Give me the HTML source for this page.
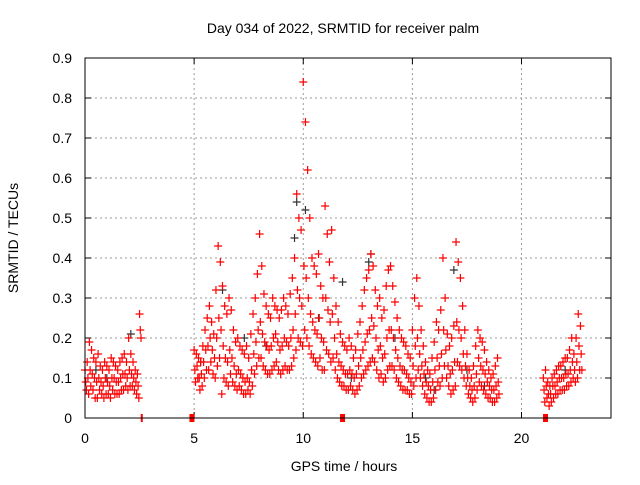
<!DOCTYPE html>
<html><head><meta charset="utf-8"><style>
body{margin:0;background:#fff}
svg text{font-family:"Liberation Sans",sans-serif;font-size:14px;fill:#000}
</style></head><body>
<svg id="chart" width="640" height="480" xmlns="http://www.w3.org/2000/svg">
<rect width="640" height="480" fill="#fff"/>
<text x="343" y="33" text-anchor="middle">Day 034 of 2022, SRMTID for receiver palm</text>
<text transform="translate(18,238) rotate(-90)" text-anchor="middle">SRMTID / TECUs</text>
<text x="344" y="471" text-anchor="middle">GPS time / hours</text>
<g id="grid"></g><g id="ticks"></g><g id="marks"></g>
<rect x="85" y="58" width="526" height="360" fill="none" stroke="#000" stroke-width="1"/>
</svg>
<script>
const xTicks=[0,5,10,15,20];
const yTicks=[0,0.1,0.2,0.3,0.4,0.5,0.6,0.7,0.8,0.9];
const segAStart=0, segBStart=5, segCStart=21, step=0.1;
const segAHi=[.12,.14,.19,.17,.15,.14,.16,.13,.12,.14,.13,.12,.15,.14,.13,.12,.14,.15,.16,.14,.20,.16,.14,.12,.11,.26];
const segAMd=[.09,.10,.12,.11,.10,.09,.10,.09,.08,.10,.09,.08,.10,.10,.09,.09,.10,.11,.11,.10,.12,.11,.10,.09,.08,.22];
const segALo=[.07,.06,.08,.07,.05,.05,.07,.06,.05,.06,.06,.05,.07,.06,.06,.06,.07,.07,.08,.07,.08,.08,.07,.06,.05,.20];
const segBHi=[.17,.16,.15,.14,.18,.22,.25,.28,.24,.21,.32,.43,.39,.33,.28,.26,.30,.27,.22,.19,.20,.18,.17,.16,.18,.15,.21,.26,.30,.36,.46,.38,.31,.28,.26,.25,.30,.28,.27,.25,.27,.30,.28,.26,.31,.35,.40,.56,.50,.47,.84,.74,.62,.50,.40,.38,.36,.41,.33,.30,.53,.46,.39,.47,.35,.28,.24,.21,.19,.18,.17,.20,.18,.15,.17,.21,.24,.28,.32,.35,.37,.41,.38,.32,.28,.30,.25,.27,.33,.37,.38,.33,.29,.25,.22,.20,.19,.18,.16,.15,.22,.30,.35,.28,.22,.18,.14,.12,.11,.15,.19,.24,.22,.27,.40,.30,.21,.18,.20,.23,.44,.39,.35,.28,.22,.16,.12,.10,.13,.18,.22,.20,.19,.17,.14,.12,.10,.11,.13,.15];
const segBMd=[.12,.13,.10,.11,.14,.17,.18,.20,.17,.15,.20,.25,.22,.18,.15,.14,.17,.15,.13,.11,.12,.11,.10,.09,.10,.09,.12,.16,.19,.22,.24,.21,.19,.18,.17,.18,.20,.21,.19,.17,.18,.20,.19,.18,.20,.22,.26,.32,.30,.28,.38,.35,.30,.26,.24,.22,.21,.25,.20,.19,.30,.27,.24,.26,.20,.16,.14,.13,.12,.11,.11,.12,.11,.10,.11,.13,.15,.17,.19,.21,.22,.25,.23,.20,.17,.18,.15,.16,.20,.22,.22,.20,.17,.15,.13,.12,.12,.11,.10,.09,.13,.18,.20,.16,.13,.11,.09,.08,.07,.09,.12,.15,.13,.16,.22,.17,.13,.11,.12,.14,.24,.22,.20,.16,.13,.10,.08,.07,.08,.11,.15,.13,.12,.11,.09,.08,.07,.07,.08,.09];
const segBLo=[.09,.10,.07,.08,.10,.12,.12,.14,.11,.10,.13,.15,.06,.10,.09,.08,.11,.09,.08,.07,.08,.07,.06,.06,.07,.06,.08,.11,.13,.15,.15,.13,.12,.11,.11,.12,.13,.14,.12,.11,.12,.13,.12,.12,.13,.15,.17,.20,.19,.18,.22,.20,.18,.16,.15,.14,.13,.15,.12,.12,.17,.16,.14,.15,.12,.10,.09,.08,.08,.07,.07,.08,.07,.06,.07,.08,.10,.11,.12,.13,.14,.15,.14,.12,.10,.11,.09,.10,.12,.13,.13,.12,.10,.09,.08,.07,.07,.07,.06,.06,.08,.10,.12,.10,.08,.06,.05,.04,.04,.05,.07,.09,.08,.10,.13,.10,.08,.06,.07,.08,.14,.13,.12,.10,.08,.06,.05,.04,.05,.07,.09,.08,.07,.06,.05,.05,.04,.04,.05,.06];
const segCHi=[.10,.12,.09,.08,.10,.11,.12,.13,.13,.14,.15,.15,.17,.20,.16,.20,.26,.23];
const segCMd=[.07,.08,.06,.06,.08,.08,.09,.10,.10,.10,.11,.11,.12,.14,.12,.14,.18,.16];
const segCLo=[.04,.05,.03,.04,.05,.06,.06,.07,.07,.07,.08,.08,.09,.10,.09,.10,.12,.12];
const blackT=[9.7,10.1,13.1,16.9,6.3,11.8,2.1,7.3,15.6,16.0,12.2,8.3,10.7,14.2,18.3,22.0,1.0,0.5,5.3,17.5,13.0,9.6];
const blackV=[.54,.52,.41,.37,.32,.34,.21,.20,.10,.07,.10,.18,.25,.20,.08,.12,.10,.12,.14,.12,.39,.45];
const gapT=[2.6,4.9,11.8,21.1];
const gapW=[2,5,5,5];

const NS="http://www.w3.org/2000/svg";
const X=t=>85+t*(526/24.1);
const Y=v=>418-v*400;
function mk(tag,attrs,parent){const e=document.createElementNS(NS,tag);for(const k in attrs)e.setAttribute(k,attrs[k]);parent.appendChild(e);return e;}
const grid=document.getElementById('grid'),ticks=document.getElementById('ticks'),marks=document.getElementById('marks');
xTicks.forEach(t=>{
  if(t>0){const g=mk('line',{x1:X(t),x2:X(t),y1:58,y2:418,stroke:'#999','stroke-dasharray':'2,3'},grid);
  
  }
  mk('line',{x1:X(t),x2:X(t),y1:418,y2:412,stroke:'#000'},ticks);
  mk('line',{x1:X(t),x2:X(t),y1:58,y2:64,stroke:'#000'},ticks);
  const l=mk('text',{x:X(t),y:443,'text-anchor':'middle'},ticks);l.textContent=t;
  
  
});
yTicks.forEach(v=>{
  if(v>0){const g=mk('line',{x1:85,x2:611,y1:Y(v),y2:Y(v),stroke:'#999','stroke-dasharray':'2,3'},grid);
  
  }
  mk('line',{x1:85,x2:91,y1:Y(v),y2:Y(v),stroke:'#000'},ticks);
  mk('line',{x1:611,x2:605,y1:Y(v),y2:Y(v),stroke:'#000'},ticks);
  const l=mk('text',{x:72,y:Y(v)+5,'text-anchor':'end'},ticks);l.textContent=v===0?'0':v.toFixed(1);
  
  
});
function plus(t,v,col){
  const x=X(t),y=Y(v);
  const p=mk('path',{d:`M${x-4},${y}h8M${x},${y-4}v8`,stroke:col,'stroke-width':1.2,fill:'none'},marks);
  
  
}
blackT.forEach((t,i)=>plus(t,blackV[i],'#333'));
function seg(start,arr,off){arr.forEach((v,i)=>plus(start+i*step+off,v,'#f00'));}
seg(segAStart,segAHi,0);seg(segAStart,segAMd,0.033);seg(segAStart,segALo,0.066);
seg(segBStart,segBHi,0);seg(segBStart,segBMd,0.033);seg(segBStart,segBLo,0.066);
seg(segCStart,segCHi,0);seg(segCStart,segCMd,0.033);seg(segCStart,segCLo,0.066);
gapT.forEach((t,i)=>{const w=gapW[i];const r=mk('rect',{x:X(t)-w/2,y:414,width:w,height:8,fill:'#f00'},marks);
  
  });
</script>
</body></html>
